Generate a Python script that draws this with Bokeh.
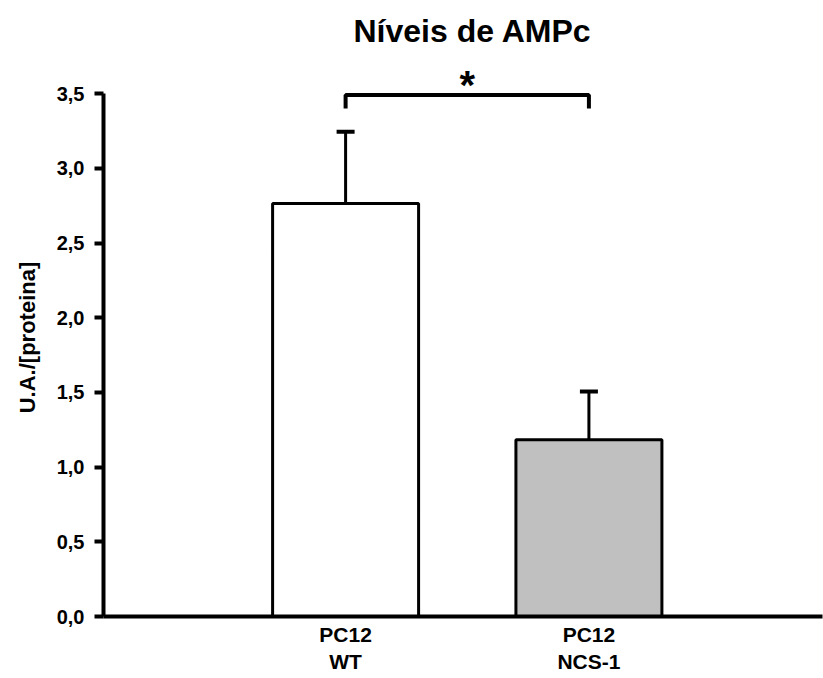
from bokeh.plotting import figure
from bokeh.models import ColumnDataSource, Range1d, FixedTicker, Whisker, TeeHead
from bokeh.core.properties import value
from bokeh.embed import file_html
from bokeh.resources import INLINE

# ---- data ----
categories = ["PC12\nWT", "PC12\nNCS-1"]
positions = [1, 2]
means = [2.765, 1.183]
errors = [0.48, 0.323]
bar_colors = ["#ffffff", "#c0c0c0"]
y_ticks = [0.0, 0.5, 1.0, 1.5, 2.0, 2.5, 3.0, 3.5]
y_tick_labels = ["0,0", "0,5", "1,0", "1,5", "2,0", "2,5", "3,0", "3,5"]
sig_label = "*"
sig_y = 3.49
sig_leg = 3.40

FONT = "Liberation Sans"

src = ColumnDataSource(dict(
    x=positions, top=means,
    upper=[m + e for m, e in zip(means, errors)],
    color=bar_colors,
))

p = figure(width=823, height=678, output_backend="svg", toolbar_location=None,
           x_range=Range1d(0.005, 2.96), y_range=Range1d(0, 3.735),
           min_border_left=103, min_border_right=1, min_border_top=58, min_border_bottom=62,
           title="Níveis de AMPc")
p.outline_line_color = None
p.grid.visible = False
p.background_fill_color = "white"

p.title.text_font = FONT
p.title.text_font_size = "32px"
p.title.text_font_style = "bold"
p.title.align = "left"
p.title.offset = 250
p.title.standoff = 20
p.title.text_color = "black"

p.vbar(x="x", top="top", width=0.6, bottom=0, source=src,
       fill_color="color", line_color="black", line_width=3)

wh = Whisker(source=src, base="x", lower="top", upper="upper",
             line_width=3, line_color="black",
             upper_head=TeeHead(size=18, line_width=4, line_color="black"),
             lower_head=None)
p.add_layout(wh)

# significance bracket
p.line(x=[positions[0], positions[0], positions[1], positions[1]],
       y=[sig_leg, sig_y, sig_y, sig_leg], line_color="black", line_width=4)
p.text(x=[(positions[0] + positions[1]) / 2], y=[sig_y + 0.065], text=[sig_label],
       text_font=value(FONT), text_font_size="40px", text_font_style="bold",
       text_align="center", text_baseline="alphabetic", text_color="black")

# y axis
ya = p.yaxis[0]
ya.bounds = (0, 3.5)
ya.ticker = FixedTicker(ticks=y_ticks)
ya.major_label_overrides = {t: l for t, l in zip(y_ticks, y_tick_labels)}
ya.minor_tick_line_color = None
ya.major_tick_in = 0
ya.major_tick_out = 9
ya.major_tick_line_width = 4
ya.axis_line_width = 4
ya.major_label_standoff = 10
ya.major_label_text_font = FONT
ya.major_label_text_font_size = "20px"
ya.major_label_text_font_style = "bold"
ya.major_label_text_color = "black"
ya.axis_label = "U.A./[proteina]"
ya.axis_label_text_font = FONT
ya.axis_label_text_font_size = "22px"
ya.axis_label_text_font_style = "bold"
ya.axis_label_text_color = "black"
ya.axis_label_standoff = 14

# x axis
xa = p.xaxis[0]
xa.ticker = FixedTicker(ticks=positions)
xa.major_label_overrides = {x: c for x, c in zip(positions, categories)}
xa.minor_tick_line_color = None
xa.major_tick_in = 0
xa.major_tick_out = 0
xa.axis_line_width = 4
xa.major_label_standoff = 6
xa.major_label_text_font = FONT
xa.major_label_text_font_size = "21px"
xa.major_label_text_font_style = "bold"
xa.major_label_text_color = "black"

open("out.html", "w").write(file_html(p, INLINE))
